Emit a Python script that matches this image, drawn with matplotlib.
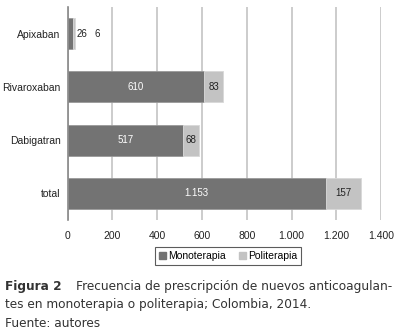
import numpy as np
import matplotlib.pyplot as plt
from matplotlib.patches import Patch

# datos
categorias = ["Apixaban", "Rivaroxaban", "Dabigatran", "total"]
monoterapia = [26, 610, 517, 1153]
politerapia = [6, 83, 68, 157]
ticks_x = [0, 200, 400, 600, 800, 1000, 1200, 1400]
etiquetas_x = ["0", "200", "400", "600", "800", "1.000", "1.200", "1.400"]

def fmt(v):
    return f"{v:,}".replace(",", ".")

color_mono = "#737373"
color_poli = "#c3c3c3"

fig = plt.figure(figsize=(4, 3.33), dpi=100)
ax = fig.add_axes([0.169, 0.339, 0.784, 0.64])

y = np.arange(len(categorias))
ax.barh(y, monoterapia, height=0.58, color=color_mono, edgecolor="#9a9a9a", linewidth=0.6, zorder=3)
ax.barh(y, politerapia, left=monoterapia, height=0.58, color=color_poli, edgecolor="#d8d8d8", linewidth=0.6, zorder=3)

for i in range(len(categorias)):
    m = monoterapia[i]
    p = politerapia[i]
    if m > 100:
        ax.text(m / 2, i, fmt(m), ha="center", va="center", color="white", fontsize=7, family="Liberation Sans", zorder=4)
        ax.text(m + p / 2, i, fmt(p), ha="center", va="center", color="#222222", fontsize=7, family="Liberation Sans", zorder=4)
    else:
        ax.text(m + 12, i, fmt(m), ha="left", va="center", color="#222222", fontsize=7, family="Liberation Sans", zorder=4)
        ax.text(m + 105, i, fmt(p), ha="center", va="center", color="#222222", fontsize=7, family="Liberation Sans", zorder=4)

ax.set_xlim(0, 1400)
ax.set_ylim(3.5, -0.5)
ax.set_yticks(y)
ax.set_yticklabels(categorias, family="Liberation Sans", fontsize=7.5, color="#222222")
ax.set_xticks(ticks_x)
ax.set_xticklabels(etiquetas_x, family="Liberation Sans", fontsize=7.5, color="#222222")
ax.tick_params(length=0, pad=5)
ax.tick_params(axis="x", pad=8)
ax.grid(axis="x", color="#c8c8c8", linewidth=1.3, zorder=0)
for s in ["top", "right", "bottom"]:
    ax.spines[s].set_visible(False)
ax.spines["left"].set_color("#888888")
ax.spines["left"].set_linewidth(1.2)
ax.spines["left"].set_zorder(5)

handles = [Patch(color=color_mono, label="Monoterapia"), Patch(color=color_poli, label="Politerapia")]
leg = fig.legend(handles=handles, loc="center", bbox_to_anchor=(0.57, 0.231), ncol=2,
                 prop={"family": "Liberation Sans", "size": 7.5}, frameon=True, fancybox=False,
                 handlelength=0.7, handleheight=0.7, handletextpad=0.2, columnspacing=1.2,
                 borderpad=0.4)
leg.get_frame().set_edgecolor("#333333")
leg.get_frame().set_linewidth(0.8)

fig.text(0.012, 0.13, "Figura 2", fontsize=8.7, fontweight="bold", color="#333333", family="DejaVu Sans")
fig.text(0.19, 0.13, "Frecuencia de prescripción de nuevos anticoagulan-", fontsize=8.7, color="#333333", family="DejaVu Sans")
fig.text(0.012, 0.075, "tes en monoterapia o politerapia; Colombia, 2014.", fontsize=8.7, color="#333333", family="DejaVu Sans")
fig.text(0.012, 0.018, "Fuente: autores", fontsize=8.7, color="#333333", family="DejaVu Sans")

fig.savefig("out.png", dpi=100)
